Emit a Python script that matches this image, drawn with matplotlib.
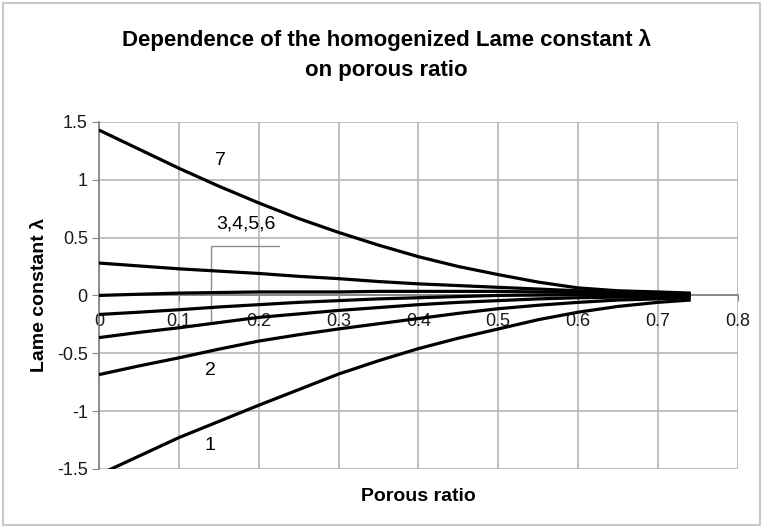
import matplotlib

matplotlib.use("Agg")

import matplotlib.pyplot as plt
from matplotlib.patches import Rectangle

# porous ratio grid shared by all curves
porous_ratio = [0.0, 0.05, 0.1, 0.15, 0.2, 0.25, 0.3, 0.35, 0.4, 0.45,
                0.5, 0.55, 0.6, 0.65, 0.7, 0.741]

# homogenized Lame constant for each case
lame_1 = [-1.55, -1.39, -1.23, -1.09, -0.95, -0.815, -0.68, -0.565, -0.46,
          -0.37, -0.29, -0.21, -0.145, -0.095, -0.06, -0.04]
lame_2 = [-0.685, -0.61, -0.54, -0.465, -0.395, -0.34, -0.29, -0.245, -0.20,
          -0.155, -0.115, -0.085, -0.06, -0.04, -0.03, -0.02]
lame_3 = [-0.365, -0.32, -0.28, -0.235, -0.19, -0.16, -0.13, -0.105, -0.08,
          -0.06, -0.045, -0.03, -0.02, -0.015, -0.01, -0.005]
lame_4 = [-0.165, -0.145, -0.124, -0.10, -0.08, -0.06, -0.045, -0.03, -0.02,
          -0.01, 0.0, 0.003, 0.005, 0.005, 0.005, 0.0]
lame_5 = [0.0, 0.01, 0.02, 0.025, 0.03, 0.03, 0.03, 0.035, 0.035, 0.035,
          0.035, 0.03, 0.025, 0.02, 0.015, 0.01]
lame_6 = [0.28, 0.255, 0.23, 0.21, 0.19, 0.165, 0.145, 0.12, 0.10, 0.085,
          0.07, 0.055, 0.04, 0.03, 0.02, 0.015]
lame_7 = [1.43, 1.265, 1.10, 0.945, 0.80, 0.665, 0.545, 0.435, 0.335, 0.25,
          0.18, 0.115, 0.065, 0.04, 0.03, 0.02]

x_ticks = [0.0, 0.1, 0.2, 0.3, 0.4, 0.5, 0.6, 0.7, 0.8]
x_tick_labels = ["0", "0.1", "0.2", "0.3", "0.4", "0.5", "0.6", "0.7", "0.8"]
y_ticks = [-1.5, -1.0, -0.5, 0.0, 0.5, 1.0, 1.5]
y_tick_labels = ["-1.5", "-1", "-0.5", "0", "0.5", "1", "1.5"]

plt.rcParams["font.family"] = ["Liberation Sans", "DejaVu Sans"]

GRID_GREY = "#b4b4b4"
AXIS_GREY = "#868686"

figure = plt.figure(figsize=(7.63, 5.28), dpi=100)
axis = figure.add_axes([0.1297, 0.112, 0.8373, 0.657])

for values in (lame_1, lame_2, lame_3, lame_4, lame_5, lame_6, lame_7):
    axis.plot(porous_ratio, values, color="black", linewidth=2.3,
              solid_capstyle="butt", solid_joinstyle="round", zorder=3)

axis.set_xlim(0.0, 0.8)
axis.set_ylim(-1.5, 1.5)
axis.set_xticks(x_ticks)
axis.set_xticklabels(x_tick_labels)
axis.set_yticks(y_ticks)
axis.set_yticklabels(y_tick_labels)

axis.grid(True, color=GRID_GREY, linewidth=1.2, zorder=0)
axis.set_axisbelow(True)

for side in ("top", "right"):
    axis.spines[side].set_visible(False)
axis.spines["bottom"].set_position(("data", 0.0))
axis.spines["bottom"].set_color(AXIS_GREY)
axis.spines["left"].set_color(AXIS_GREY)
axis.spines["bottom"].set_linewidth(1.3)
axis.spines["left"].set_linewidth(1.3)

axis.tick_params(axis="x", direction="out", length=4, pad=9,
                 color=AXIS_GREY, labelsize=13, labelcolor="#1a1a1a")
axis.tick_params(axis="y", direction="out", length=5, pad=3,
                 color=AXIS_GREY, labelsize=13, labelcolor="#1a1a1a")

# case labels and the leader for the bundle of cases 3-6
axis.text(0.152, 1.17, "7", fontsize=14, ha="center", va="center")
axis.text(0.184, 0.62, "3,4,5,6", fontsize=14, ha="center", va="center")
axis.text(0.139, -0.65, "2", fontsize=14, ha="center", va="center")
axis.text(0.139, -1.30, "1", fontsize=14, ha="center", va="center")
axis.plot([0.225, 0.14, 0.14], [0.424, 0.424, -0.225], color="#8c8c8c",
          linewidth=1.0, zorder=2)

figure.text(0.506, 0.924, "Dependence of the homogenized Lame constant \u03bb",
            fontsize=16, fontweight="bold", ha="center", va="center")
figure.text(0.506, 0.867, "on porous ratio", fontsize=16, fontweight="bold",
            ha="center", va="center")
figure.text(0.548, 0.059, "Porous ratio", fontsize=14, fontweight="bold",
            ha="center", va="center")
figure.text(0.052, 0.441, "Lame constant \u03bb", fontsize=14,
            fontweight="bold", ha="center", va="center", rotation=90)

figure.patches.append(
    Rectangle((0.004, 0.005), 0.992, 0.99, transform=figure.transFigure,
              fill=False, edgecolor="#c8c8c8", linewidth=1.5)
)

figure.savefig("out.png", dpi=100)
plt.close(figure)
